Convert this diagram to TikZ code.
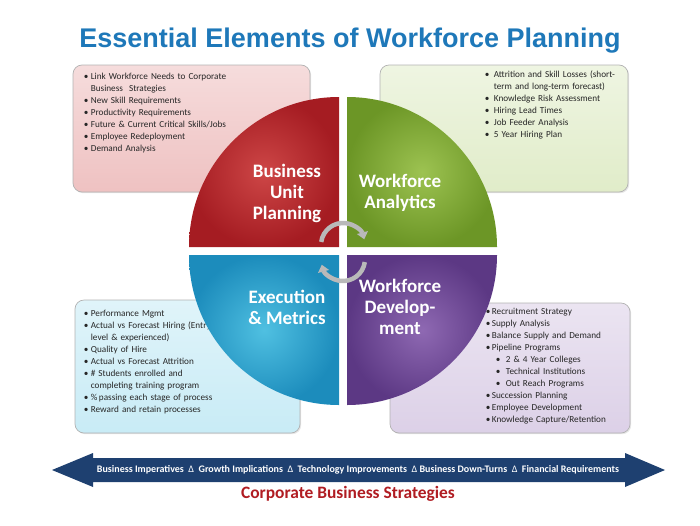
\documentclass[tikz,border=0pt]{standalone}
\usepackage{fontspec}
\setmainfont{Carlito}
\newfontfamily\titlefont{Liberation Sans}
\usepackage{tikz}
\usetikzlibrary{arrows,arrows.meta,positioning,shadows}
\usepackage{xcolor}

\definecolor{titleblue}{RGB}{30,120,185}
\definecolor{bupred}{RGB}{200,50,50}
\definecolor{bupdark}{RGB}{165,28,34}
\definecolor{wfagreen}{RGB}{146,188,62}
\definecolor{wfadark}{RGB}{108,150,38}
\definecolor{exmblue}{RGB}{60,185,222}
\definecolor{exmdark}{RGB}{28,140,188}
\definecolor{wfdpurple}{RGB}{130,88,170}
\definecolor{wfddark}{RGB}{92,56,132}
\definecolor{stripblue}{RGB}{58,106,166}
\definecolor{stripdark}{RGB}{30,64,112}
\definecolor{cbsred}{RGB}{176,28,34}

\newcommand{\bul}[2][7pt]{\makebox[#1][l]{\textbullet}#2}
\newcommand{\cont}[2][7pt]{\hspace*{#1}#2}
\newcommand{\subbul}[1]{\hspace*{10pt}\makebox[10pt][l]{\textbullet}#1}

\begin{document}
\begin{tikzpicture}[x=1pt,y=-1pt,
  info box/.style={rectangle, rounded corners=9pt, draw=gray!60, line width=0.7pt,
    drop shadow={opacity=0.2, shadow xshift=1.2pt, shadow yshift=-1.2pt}},
  list text/.style={inner sep=0pt, text width=#1, align=left, text=black!85,
    font=\fontsize{9.2}{12}\selectfont},
  quad label/.style={text=white, font=\bfseries\fontsize{19}{21}\selectfont, align=center},
  cycle arrow/.style={-{Triangle[width=11pt,length=7pt]}, line width=4.5pt, draw=gray!55}]
  \useasboundingbox (0,0) rectangle (700,525);

  % title
  \node (title) at (350,41) {\titlefont\bfseries\fontsize{27}{30}\selectfont\color{titleblue}Essential Elements of Workforce Planning};

  % boxes
  \node [info box, minimum width=237pt, minimum height=127pt, top color=bupred!17, bottom color=bupred!30] (TLbox) at (191.5,128.5) {};
  \node [info box, minimum width=248pt, minimum height=127pt, top color=wfagreen!15, bottom color=wfagreen!28] (TRbox) at (504,128.5) {};
  \node [info box, minimum width=225pt, minimum height=133pt, top color=exmblue!16, bottom color=exmblue!28] (BLbox) at (187.5,366.5) {};
  \node [info box, minimum width=240pt, minimum height=130pt, top color=wfdpurple!16, bottom color=wfdpurple!28] (BRbox) at (510,368) {};

  \node [list text=200pt, below right=8pt and 11pt of TLbox.north west] (TLtext) {%
    \bul{Link Workforce Needs to Corporate}\\
    \cont{Business\ \ Strategies}\\
    \bul{New Skill Requirements}\\
    \bul{Productivity Requirements}\\
    \bul{Future \& Current Critical Skills/Jobs}\\
    \bul{Employee Redeployment}\\
    \bul{Demand Analysis}};
  \node [list text=140pt, below right=6pt and 105pt of TRbox.north west] (TRtext) {%
    \bul[9pt]{Attrition and Skill Losses (short-}\\
    \cont[9pt]{term and long-term forecast)}\\
    \bul[9pt]{Knowledge Risk Assessment}\\
    \bul[9pt]{Hiring Lead Times}\\
    \bul[9pt]{Job Feeder Analysis}\\
    \bul[9pt]{5 Year Hiring Plan}};
  \node [list text=200pt, below right=10pt and 9pt of BLbox.north west] (BLtext) {%
    \bul{Performance Mgmt}\\
    \bul{Actual vs Forecast Hiring (Entry}\\
    \cont{level \& experienced)}\\
    \bul{Quality of Hire}\\
    \bul{Actual vs Forecast Attrition}\\
    \bul{\# Students enrolled and}\\
    \cont{completing training program}\\
    \bul{\%\,passing each stage of process}\\
    \bul{Reward and retain processes}};
  \node [list text=140pt, below right=5pt and 96pt of BRbox.north west] (BRtext) {%
    \bul[6pt]{Recruitment Strategy}\\
    \bul[6pt]{Supply Analysis}\\
    \bul[6pt]{Balance Supply and Demand}\\
    \bul[6pt]{Pipeline Programs}\\
    \subbul{2 \& 4 Year Colleges}\\
    \subbul{Technical Institutions}\\
    \subbul{Out Reach Programs}\\
    \bul[6pt]{Succession Planning}\\
    \bul[6pt]{Employee Development}\\
    \bul[6pt]{Knowledge Capture/Retention}};

  % the four quadrants
  \shade [inner color=bupred!90!white, outer color=bupdark] (339,247) -- ++(-150,0) arc[start angle=180, end angle=90, radius=150pt] -- cycle;
  \shade [inner color=wfagreen!90!white, outer color=wfadark] (347,247) -- ++(0,-150) arc[start angle=90, end angle=0, radius=150pt] -- cycle;
  \shade [inner color=wfdpurple!90!white, outer color=wfddark] (347,255) -- ++(150,0) arc[start angle=0, end angle=-90, radius=150pt] -- cycle;
  \shade [inner color=exmblue!90!white, outer color=exmdark] (339,255) -- ++(0,150) arc[start angle=270, end angle=180, radius=150pt] -- cycle;

  \node [quad label] (BUP) at (287,193) {Business\\Unit\\Planning};
  \node [quad label] (WFA) at (400,193) {Workforce\\Analytics};
  \node [quad label] (EXM) at (287,307) {Execution\\\& Metrics};
  \node [quad label] (WFD) at (400,307) {Workforce\\Develop-\\ment};

  % cycle arrows in the middle
  \draw [cycle arrow] (343,245) ++(172:22pt) arc[start angle=172, end angle=15, radius=22pt];
  \draw [cycle arrow] (343,259) ++(-8:22pt) arc[start angle=-8, end angle=-165, radius=22pt];

  % strategies strip
  \shade [top color=stripdark, middle color=stripblue, bottom color=stripdark]
    (52,470) -- (93,453) -- (93,458) -- (625,458) -- (625,453) -- (665,470)
    -- (625,487) -- (625,482) -- (93,482) -- (93,487) -- cycle;
  \node [text=white, font=\bfseries\fontsize{10}{12}\selectfont] (STRIP) at (358,470)
    {Business Imperatives\ \ {\mdseries Δ}\ \ Growth Implications\ \ {\mdseries Δ}\ \ Technology Improvements\ \ {\mdseries Δ}\ Business Down-Turns\ \ {\mdseries Δ}\ \ Financial Requirements};
  \node [text=cbsred, font=\bfseries\fontsize{17.4}{19}\selectfont] (CBS) at (348,494) {Corporate Business Strategies};
\end{tikzpicture}
\end{document}
